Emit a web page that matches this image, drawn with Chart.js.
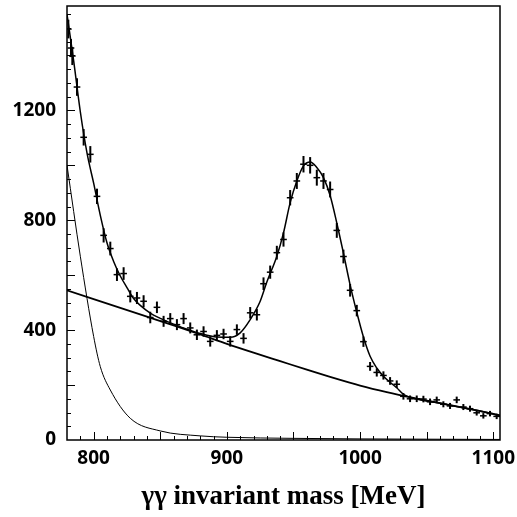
<!DOCTYPE html>
<html>
<head>
<meta charset="utf-8">
<script src="https://cdn.jsdelivr.net/npm/chart.js@4.4.0/dist/chart.umd.min.js"></script>
<style>
  html, body { margin: 0; padding: 0; background: #fff; }
</style>
</head>
<body>
<canvas id="chart" width="517" height="517"></canvas>
<script>
// measured bins (centre of bin, MeV) and counts
const mass = [781, 783, 784, 787.5, 792.5, 797.5, 802.5, 807.5, 812.5, 817.5,
    822.5, 827.5, 832.5, 837.5, 842.5, 847.5, 852.5, 857.5, 862.5, 867.5,
    872.5, 877.5, 882.5, 887.5, 892.5, 897.5, 902.5, 907.5, 912.5, 917.5,
    922.5, 927.5, 932.5, 937.5, 942.5, 947.5, 952.5, 957.5, 962.5, 967.5,
    972.5, 977.5, 982.5, 987.5, 992.5, 997.5, 1002.5, 1007.5, 1012.5, 1017.5,
    1022.5, 1027.5, 1032.5, 1037.5, 1042.5, 1047.5, 1052.5, 1057.5, 1062.5, 1067.5,
    1072.5, 1077.5, 1082.5, 1087.5, 1092.5, 1097.5, 1102.5];
const counts = [1496, 1427, 1398, 1285, 1102, 1040, 887, 745, 697, 602,
    606, 523, 517, 505, 446, 483, 432, 442, 420, 442,
    408, 383, 395, 359, 381, 386, 359, 402, 370, 463,
    456, 569, 611, 682, 730, 882, 943, 1004, 1000, 955,
    943, 912, 763, 668, 545, 471, 358, 268, 246, 235,
    215, 203, 159, 150, 150, 149, 139, 146, 130, 124,
    146, 120, 114, 99, 88, 96, 86];
const errs = [34, 33, 33, 32, 30, 30, 28, 26, 25, 23,
    23, 22, 22, 22, 21, 21, 20, 20, 20, 20,
    20, 19, 19, 19, 19, 19, 19, 19, 19, 21,
    21, 23, 24, 25, 26, 28, 29, 30, 30, 29,
    29, 29, 27, 25, 23, 21, 19, 16, 15, 15,
    14, 14, 12, 12, 12, 12, 12, 12, 11, 11,
    12, 11, 11, 10, 10, 10, 10];
const binHalf = 2.5;

// total fit
const fitMass = [780, 785, 790, 795, 800, 805, 810, 815, 820, 825,
    830, 835, 842.5, 850, 855, 860, 867.5, 880, 892.5, 902.5,
    910, 917.5, 925, 930, 937.5, 942.5, 947.5, 952.5, 957.5, 962.5,
    967.5, 972.5, 977.5, 982.5, 987.5, 992.5, 997.5, 1002.5, 1007.5, 1012.5,
    1017.5, 1022.5, 1027.5, 1032.5, 1040, 1060, 1080, 1100, 1105];
const fitCounts = [1550, 1380, 1195, 1045, 935, 818, 718, 650, 597, 555,
    515, 490, 462, 443, 432, 422, 408, 388, 375, 374,
    390, 438, 505, 575, 669, 754, 864, 943, 998, 1012,
    992, 955, 890, 790, 680, 565, 465, 375, 305, 262,
    232, 210, 190, 166, 152, 134, 115, 95, 89];

// smooth background
const bgMass = [780, 800, 820, 840, 860, 880, 900, 920, 940, 960,
    980, 1000, 1020, 1040, 1060, 1080, 1100, 1105];
const bgCounts = [545, 513, 481, 449, 417, 384, 350, 318, 287, 256,
    226, 198, 174, 153, 134, 115, 95, 89];

// steep component
const tailMass = [780, 790, 800, 805, 812.5, 827.5, 850, 880, 900, 950, 1000, 1050, 1105];
const tailCounts = [1000, 669, 377, 267, 182, 79, 33, 15, 10, 6, 4, 3, 2];

const xTicks = [800, 900, 1000, 1100];
const yTicks = [0, 400, 800, 1200];

const pts = (xs, ys) => xs.map((v, i) => ({ x: v, y: ys[i] }));

const frame = {
    id: "frame",
    afterDatasetsDraw(chart) {
        const { ctx, chartArea: a, scales: { x, y } } = chart;
        ctx.save();
        ctx.strokeStyle = "#000";
        // error crosses
        for (let i = 0; i < mass.length; i++) {
            const px = x.getPixelForValue(mass[i]);
            const py = y.getPixelForValue(counts[i]);
            ctx.lineWidth = 2;
            ctx.beginPath();
            ctx.moveTo(px, y.getPixelForValue(counts[i] - errs[i]));
            ctx.lineTo(px, Math.max(a.top, y.getPixelForValue(counts[i] + errs[i])));
            ctx.stroke();
            ctx.lineWidth = 1.5;
            ctx.beginPath();
            ctx.moveTo(Math.max(a.left, x.getPixelForValue(mass[i] - binHalf)), py);
            ctx.lineTo(x.getPixelForValue(mass[i] + binHalf), py);
            ctx.stroke();
        }
        // frame
        ctx.lineWidth = 1.5;
        ctx.strokeRect(a.left, a.top, a.right - a.left, a.bottom - a.top);
        // inward ticks
        ctx.lineWidth = 1;
        ctx.beginPath();
        for (let v = 790; v <= 1100; v += 10) {
            const px = Math.round(x.getPixelForValue(v)) + 0.5;
            const len = v % 50 === 0 ? 8 : 4;
            ctx.moveTo(px, a.bottom);
            ctx.lineTo(px, a.bottom - len);
        }
        for (let v = 50; v <= 1550; v += 50) {
            const py = Math.round(y.getPixelForValue(v)) + 0.5;
            const len = v % 200 === 0 ? 8 : 4;
            ctx.moveTo(a.left, py);
            ctx.lineTo(a.left + len, py);
        }
        ctx.stroke();
        ctx.restore();
    }
};

const tickFont = { family: "Open Sans", weight: "bold", size: 19 };

new Chart(document.getElementById("chart"), {
    type: "line",
    data: {
        datasets: [
            {
                label: "fit",
                data: pts(fitMass, fitCounts),
                borderColor: "#000",
                borderWidth: 1.5,
                pointRadius: 0,
                cubicInterpolationMode: "monotone"
            },
            {
                label: "background",
                data: pts(bgMass, bgCounts),
                borderColor: "#000",
                borderWidth: 1.8,
                pointRadius: 0,
                cubicInterpolationMode: "monotone"
            },
            {
                label: "tail",
                data: pts(tailMass, tailCounts),
                borderColor: "#000",
                borderWidth: 1,
                pointRadius: 0,
                cubicInterpolationMode: "monotone"
            },
            {
                label: "data",
                data: pts(mass, counts),
                showLine: false,
                pointRadius: 0
            }
        ]
    },
    options: {
        responsive: false,
        animation: false,
        layout: { padding: { top: 6, right: 17, left: 0, bottom: 0 } },
        plugins: { legend: { display: false }, tooltip: { enabled: false } },
        scales: {
            x: {
                type: "linear",
                min: 780,
                max: 1105,
                afterBuildTicks: s => { s.ticks = xTicks.map(v => ({ value: v })); },
                afterFit: s => { s.height = 77; s.paddingLeft = 0; s.paddingRight = 0; },
                grid: { display: false, drawTicks: false },
                border: { display: false },
                ticks: {
                    font: tickFont, color: "#000", padding: 7, maxRotation: 0,
                    callback: v => String(v)
                },
                title: {
                    display: true,
                    text: "γγ invariant mass [MeV]",
                    color: "#000",
                    font: { family: "Liberation Serif", weight: "bold", size: 27 },
                    padding: { top: 0, bottom: 4 }
                }
            },
            y: {
                type: "linear",
                min: 0,
                max: 1580,
                afterBuildTicks: s => { s.ticks = yTicks.map(v => ({ value: v })); },
                afterFit: s => { s.width = 67; s.paddingTop = 0; s.paddingBottom = 0; },
                grid: { display: false, drawTicks: false },
                border: { display: false },
                ticks: {
                    font: tickFont, color: "#000", padding: 11,
                    callback: v => String(v)
                }
            }
        }
    },
    plugins: [frame]
});
</script>
</body>
</html>
